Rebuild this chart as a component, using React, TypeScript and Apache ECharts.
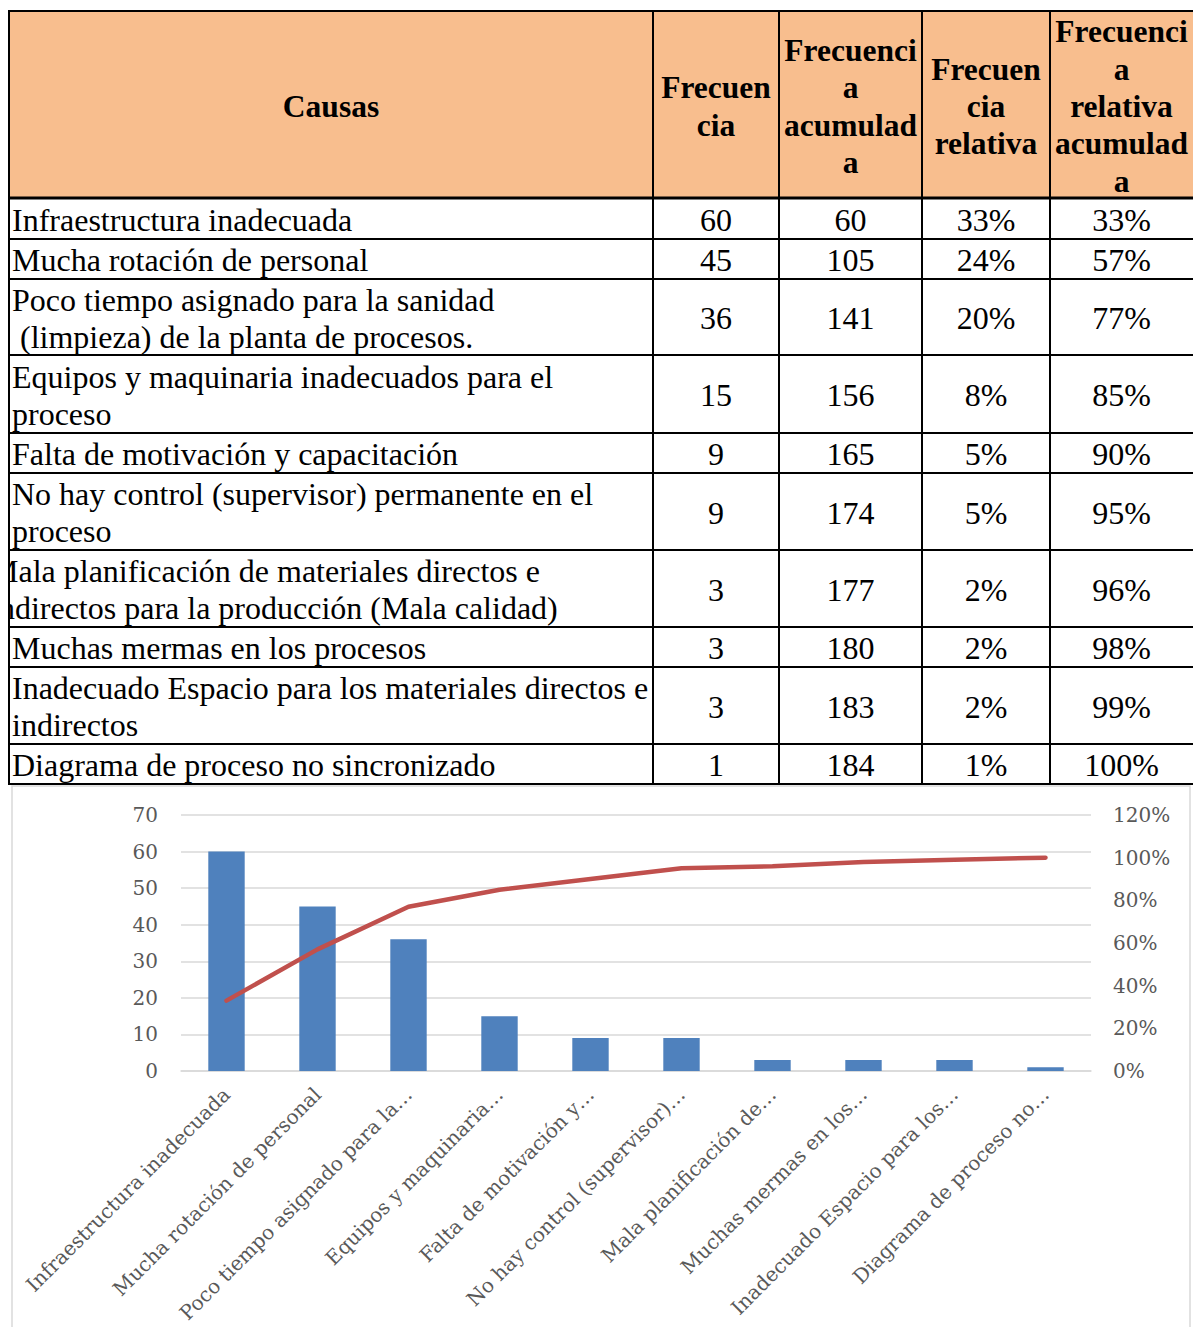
import React, { useEffect, useRef } from "react";
import * as echarts from "echarts";

// ---- Data ----
const headerLines: string[][] = [
  ["Causas"],
  ["Frecuen", "cia"],
  ["Frecuenci", "a", "acumulad", "a"],
  ["Frecuen", "cia", "relativa"],
  ["Frecuenci", "a", "relativa", "acumulad", "a"],
];

const causeLines: string[][] = [
  ["Infraestructura inadecuada"],
  ["Mucha rotación de personal"],
  ["Poco tiempo asignado para la sanidad", "(limpieza) de la planta de procesos."],
  ["Equipos y maquinaria inadecuados para el", "proceso"],
  ["Falta de motivación y capacitación"],
  ["No hay control (supervisor) permanente en el", "proceso"],
  ["Mala planificación de materiales directos e", "indirectos para la producción (Mala calidad)"],
  ["Muchas mermas en los procesos"],
  ["Inadecuado Espacio para los materiales directos e", "indirectos"],
  ["Diagrama de proceso no sincronizado"],
];

const frecuencia = [60, 45, 36, 15, 9, 9, 3, 3, 3, 1];
const frecuenciaAcumulada = [60, 105, 141, 156, 165, 174, 177, 180, 183, 184];
const frecuenciaRelativa = [33, 24, 20, 8, 5, 5, 2, 2, 2, 1];
const relativaAcumulada = [33, 57, 77, 85, 90, 95, 96, 98, 99, 100];

const axisLabels = [
  "Infraestructura inadecuada",
  "Mucha rotación de personal",
  "Poco tiempo asignado para la…",
  "Equipos y maquinaria…",
  "Falta de motivación y…",
  "No hay control (supervisor)…",
  "Mala planificación de…",
  "Muchas mermas en los…",
  "Inadecuado Espacio para los…",
  "Diagrama de proceso no…",
];

// ---- Layout ----
const COL_X = [9, 653, 779, 922, 1050, 1193];
const ROW_Y = [11, 198, 239, 279, 355, 433, 473, 550, 627, 667, 744, 784];
const TABLE_RIGHT = 1205;
const SERIF = "'Liberation Serif', 'Times New Roman', serif";
const AXIS_FONT = "'DejaVu Serif', serif";

function txt(text: string, x: number, y: number, opts: any = {}) {
  const align = opts.align || "center";
  return {
    type: "text",
    z: 10,
    x,
    y,
    style: {
      text,
      fill: "#000",
      fontFamily: SERIF,
      fontSize: opts.size || 32,
      fontWeight: opts.bold ? "bold" : "normal",
      align,
      textAlign: align,
      verticalAlign: "middle",
      textVerticalAlign: "middle",
    },
  };
}

function buildTable(): any[] {
  const els: any[] = [];
  els.push({
    type: "rect",
    z: 1,
    shape: { x: COL_X[0], y: ROW_Y[0], width: TABLE_RIGHT - COL_X[0], height: ROW_Y[1] - ROW_Y[0] },
    style: { fill: "#f8be8e" },
  });
  headerLines.forEach((lines, c) => {
    const cx = (COL_X[c] + COL_X[c + 1]) / 2;
    const n = lines.length;
    lines.forEach((l, i) => {
      els.push(txt(l, cx, 106.5 + (i - (n - 1) / 2) * 37.3, { bold: true, size: 31.5 }));
    });
  });
  causeLines.forEach((lines, r) => {
    const cy = (ROW_Y[r + 1] + ROW_Y[r + 2]) / 2 + 1;
    const n = lines.length;
    lines.forEach((l, i) => {
      let x = 12;
      if (r === 2 && i === 1) x = 20;
      if (r === 6) x = -10;
      els.push(txt(l, x, cy + (i - (n - 1) / 2) * 37, { align: "left" }));
    });
    const cols = [
      String(frecuencia[r]),
      String(frecuenciaAcumulada[r]),
      frecuenciaRelativa[r] + "%",
      relativaAcumulada[r] + "%",
    ];
    cols.forEach((v, k) => {
      const cx = (COL_X[k + 1] + COL_X[k + 2]) / 2;
      els.push(txt(v, cx, cy));
    });
  });
  els.push({
    type: "rect",
    z: 20,
    shape: { x: -2, y: ROW_Y[0], width: COL_X[0] + 2, height: ROW_Y[ROW_Y.length - 1] - ROW_Y[0] },
    style: { fill: "#fff" },
  });
  ROW_Y.forEach((y, i) => {
    els.push({
      type: "line",
      z: 30,
      shape: { x1: COL_X[0] - 1, y1: y, x2: TABLE_RIGHT, y2: y },
      style: { stroke: "#000", lineWidth: i === 1 ? 3 : 2 },
    });
  });
  COL_X.slice(0, 5).forEach((x) => {
    els.push({
      type: "line",
      z: 30,
      shape: { x1: x, y1: ROW_Y[0], x2: x, y2: ROW_Y[ROW_Y.length - 1] },
      style: { stroke: "#000", lineWidth: 2 },
    });
  });
  els.push({
    type: "rect",
    z: 0,
    shape: { x: 12, y: 786, width: 1178, height: 600 },
    style: { fill: "none", stroke: "#d9d9d9", lineWidth: 1.5 },
  });
  return els;
}

export default function App() {
  const ref = useRef<HTMLDivElement>(null);
  useEffect(() => {
    if (!ref.current) return;
    const chart = echarts.init(ref.current, null, { renderer: "svg" });
    chart.setOption({
      animation: false,
      backgroundColor: "#fff",
      graphic: { elements: buildTable() },
      grid: {
        left: 181,
        right: 102,
        top: 815,
        bottom: 256,
        containLabel: false,
        outerBoundsMode: "none",
      },
      xAxis: {
        type: "category",
        data: axisLabels,
        boundaryGap: true,
        axisLine: { show: true, lineStyle: { color: "#d9d9d9", width: 1.5 } },
        axisTick: { show: false },
        axisLabel: {
          interval: 0,
          rotate: 45,
          margin: 20,
          color: "#595959",
          fontFamily: AXIS_FONT,
          fontSize: 20,
        },
      },
      yAxis: [
        {
          type: "value",
          min: 0,
          max: 70,
          interval: 10,
          axisLine: { show: false },
          axisTick: { show: false },
          splitLine: { show: true, lineStyle: { color: "#d9d9d9", width: 1.5 } },
          axisLabel: { margin: 23, color: "#595959", fontFamily: AXIS_FONT, fontSize: 20 },
        },
        {
          type: "value",
          min: 0,
          max: 120,
          interval: 20,
          axisLine: { show: false },
          axisTick: { show: false },
          splitLine: { show: false },
          axisLabel: {
            margin: 22,
            color: "#595959",
            fontFamily: AXIS_FONT,
            fontSize: 20,
            formatter: "{value}%",
          },
        },
      ],
      series: [
        {
          type: "bar",
          data: frecuencia,
          barWidth: "40%",
          itemStyle: { color: "#4f81bd" },
          yAxisIndex: 0,
        },
        {
          type: "line",
          data: relativaAcumulada,
          yAxisIndex: 1,
          symbol: "none",
          showSymbol: false,
          lineStyle: { color: "#c0504d", width: 4.5, cap: "round", join: "round" },
          itemStyle: { color: "#c0504d" },
        },
      ],
    });
    return () => chart.dispose();
  }, []);
  return (
    <div
      ref={ref}
      style={{ position: "absolute", left: 0, top: 0, width: 1193, height: 1327, background: "#fff" }}
    />
  );
}
